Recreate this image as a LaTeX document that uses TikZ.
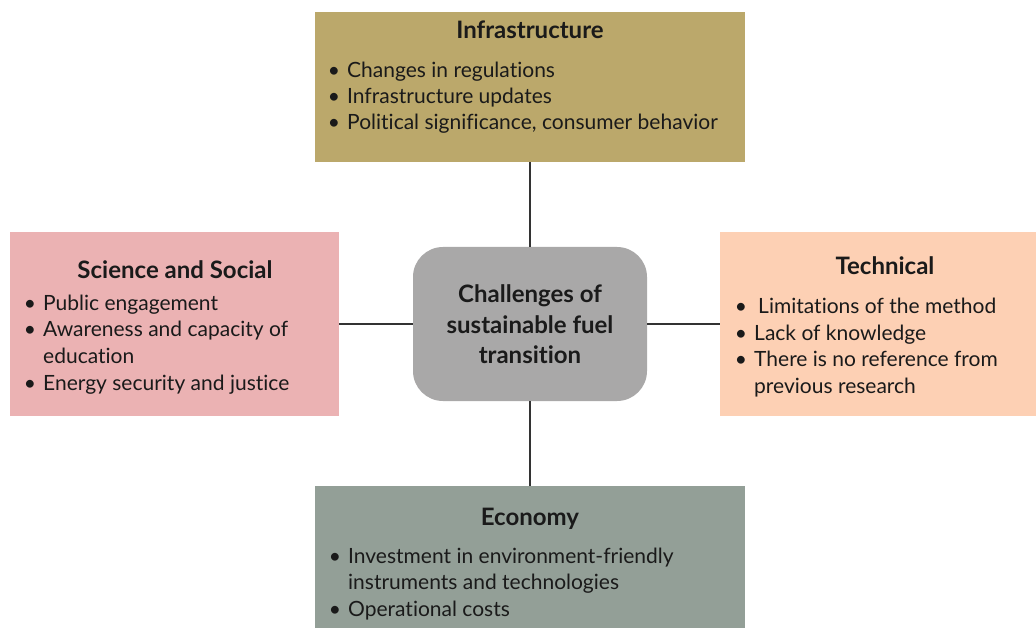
\documentclass[tikz,border=0pt]{standalone}
\usepackage{fontspec}
\setmainfont{Lato}[Ligatures=NoCommon]
\definecolor{infrafill}{HTML}{BBA86B}
\definecolor{scifill}{HTML}{EBB2B3}
\definecolor{techfill}{HTML}{FDD0B4}
\definecolor{econfill}{HTML}{939F97}
\definecolor{corefill}{HTML}{A9A8A8}
\definecolor{ink}{HTML}{1A1A1A}
\definecolor{wire}{HTML}{333333}
\begin{document}
\begin{tikzpicture}[x=1pt,y=-1pt,
  box/.style={rectangle, inner sep=0pt, draw=none},
  core/.style={rectangle, rounded corners=30pt, inner sep=0pt, fill=corefill,
    minimum width=234pt, minimum height=154pt},
  conn/.style={draw=wire, line width=1.3pt},
  heading/.style={inner sep=0pt, anchor=mid, text=ink, font=\fontsize{24}{28}\selectfont\bfseries},
  item/.style={inner sep=0pt, anchor=mid west, text=ink, font=\fontsize{21}{25}\selectfont},
  dot/.style={inner sep=0pt, anchor=mid, text=ink, font=\fontsize{21}{25}\selectfont}
]
\useasboundingbox (0,0) rectangle (1036,628);
\fill[white] (0,0) rectangle (1036,628);

% category boxes
\node[box, fill=infrafill, minimum width=430pt, minimum height=150pt] (infra) at (530,87) {};
\node[box, fill=scifill, minimum width=329pt, minimum height=184pt] (sci) at (174.5,324) {};
\node[box, fill=techfill, minimum width=316pt, minimum height=184pt] (tech) at (878,324) {};
\node[box, fill=econfill, minimum width=430pt, minimum height=142pt] (econ) at (530,557) {};

% central node
\node[core] (center) at (530,324) {};
\node[heading] (c1) at (530,300) {Challenges of};
\node[heading] (c2) at (530,331) {sustainable fuel};
\node[heading] (c3) at (530,361) {transition};

% connectors
\draw[conn] (infra.south) -- (center.north);
\draw[conn] (center.south) -- (econ.north);
\draw[conn] (sci.east) -- (center.west);
\draw[conn] (center.east) -- (tech.west);

% Infrastructure
\node[heading] (infraT) at (530,36) {Infrastructure};
\node[dot] (ib1) at (334,75) {\textbullet};
\node[item] (i1) at (347,75) {Changes in regulations};
\node[dot] (ib2) at (334,101) {\textbullet};
\node[item] (i2) at (347,101) {Infrastructure updates};
\node[dot] (ib3) at (334,127) {\textbullet};
\node[item] (i3) at (347,127) {Political significance, consumer behavior};

% Science and Social
\node[heading] (sciT) at (175,276) {Science and Social};
\node[dot] (sb1) at (30,308) {\textbullet};
\node[item] (s1) at (43,308) {Public engagement};
\node[dot] (sb2) at (30,334) {\textbullet};
\node[item] (s2) at (43,334) {Awareness and capacity of};
\node[item] (s2b) at (43,361) {education};
\node[dot] (sb3) at (30,388) {\textbullet};
\node[item] (s3) at (43,388) {Energy security and justice};

% Technical
\node[heading] (techT) at (885,272) {Technical};
\node[dot] (tb1) at (741,311) {\textbullet};
\node[item] (t1) at (758,311) {Limitations of the method};
\node[dot] (tb2) at (741,338) {\textbullet};
\node[item] (t2) at (754,338) {Lack of knowledge};
\node[dot] (tb3) at (741,364) {\textbullet};
\node[item] (t3) at (754,364) {There is no reference from};
\node[item] (t3b) at (754,391) {previous research};

% Economy
\node[heading] (econT) at (530,523) {Economy};
\node[dot] (eb1) at (335,561) {\textbullet};
\node[item] (e1) at (348,561) {Investment in environment-friendly};
\node[item] (e1b) at (348,587) {instruments and technologies};
\node[dot] (eb2) at (335,614) {\textbullet};
\node[item] (e2) at (348,614) {Operational costs};
\end{tikzpicture}
\end{document}
